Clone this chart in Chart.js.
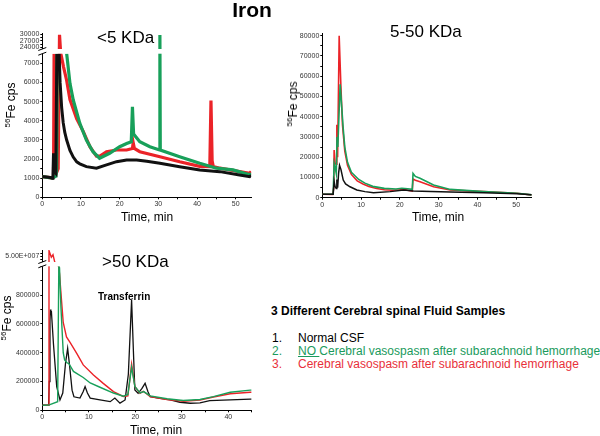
<!DOCTYPE html>
<html>
<head>
<meta charset="utf-8">
<script src="https://cdn.jsdelivr.net/npm/chart.js@4.4.1/dist/chart.umd.min.js"></script>
<style>
body { margin: 0; background: #fff; }
#page { position: relative; width: 600px; height: 436px; overflow: hidden; font-family: "Liberation Sans", Arial, sans-serif; color: #000; }
canvas { position: absolute; }
.t { position: absolute; white-space: nowrap; line-height: 1; }
.yl { position: absolute; white-space: nowrap; line-height: 1; font-size: 12px; transform: translate(-50%, -50%) rotate(-90deg); }
.yl sup { font-size: 8px; line-height: 0; }
</style>
</head>
<body>
<div id="page">
  <canvas id="under5" width="262" height="225" style="left:0;top:0"></canvas>
  <canvas id="mid" width="265" height="225" style="left:280px;top:0"></canvas>
  <canvas id="over50" width="262" height="190" style="left:0;top:235px"></canvas>

  <div class="t" style="left:202px;top:-1px;width:100px;text-align:center;font-weight:bold;font-size:21px">Iron</div>
  <div class="t" style="left:97px;top:29px;font-size:17px">&lt;5 KDa</div>
  <div class="t" style="left:390px;top:23px;font-size:17px">5-50 KDa</div>
  <div class="t" style="left:102px;top:253px;font-size:17px">&gt;50 KDa</div>
  <div class="t" style="left:98px;top:292px;font-size:10px;font-weight:bold">Transferrin</div>

  <div class="yl" style="left:11px;top:105px"><sup>56</sup>Fe cps</div>
  <div class="yl" style="left:293px;top:104px"><sup>56</sup>Fe cps</div>
  <div class="yl" style="left:7px;top:318px"><sup>56</sup>Fe cps</div>

  <div class="t" style="left:97px;top:211px;width:100px;text-align:center;font-size:12px">Time, min</div>
  <div class="t" style="left:388px;top:211px;width:100px;text-align:center;font-size:12px">Time, min</div>
  <div class="t" style="left:106px;top:424px;width:100px;text-align:center;font-size:12px">Time, min</div>

  <div class="t" style="left:271px;top:305px;font-size:12px;font-weight:bold">3 Different Cerebral spinal Fluid Samples</div>
  <div class="t" style="left:272px;top:332px;font-size:12px">1.</div>
  <div class="t" style="left:298px;top:332px;font-size:12px">Normal CSF</div>
  <div class="t" style="left:272px;top:345px;font-size:12px;color:#1a9a5c">2.</div>
  <div class="t" style="left:298px;top:345px;font-size:12px;color:#1a9a5c"><u>NO </u>Cerebral vasospasm after subarachnoid hemorrhage</div>
  <div class="t" style="left:272px;top:358px;font-size:12px;color:#e8303a">3.</div>
  <div class="t" style="left:298px;top:358px;font-size:12px;color:#e8303a">Cerebral vasospasm after subarachnoid hemorrhage</div>
</div>
<script>
// [time (min), 56Fe cps]; null = off scale
const under5Normal = [[0,1080],[1,1060],[2,1040],[2.6,1000],[2.75,1100],[2.9,2300],[3.1,1700],[3.3,1300],[3.5,1250],
  [3.75,7600],[3.8,null],[4.2,null],[4.35,7600],[4.6,6000],[5.0,4700],[5.4,3900],[5.8,3400],[6.3,2990],[7.15,2450],
  [8,2100],[8.9,1850],[9.7,1750],[11.4,1600],[14,1520],[16.6,1690],[19.2,1860],[21.8,1950],[24.4,1950],[27,1880],
  [30.4,1780],[35.5,1600],[40.7,1430],[45.9,1340],[51,1170],[53.6,1080],[54,1150]];
const under5NoVaso = [[0,1080],[2.6,1000],[3.5,1100],[3.7,1400],[3.85,7600],[3.9,null],[6.2,null],[6.3,7600],[7.15,5950],
  [8,5080],[9.7,3860],[11.4,2990],[13.1,2380],[14.8,2040],[17.4,2300],[20,2640],[21.8,2810],[23.0,2900],[23.3,4730],
  [23.6,3300],[25.2,2900],[27.8,2640],[30.3,2470],[30.4,29700],[30.5,2470],[35.5,2120],[40.7,1780],[45,1520],
  [49.3,1430],[53.6,1170],[54,1250]];
const under5Vaso = [[0,1080],[1,1050],[2,1030],[2.6,1000],[2.9,1050],[3.05,7700],[3.35,1500],[3.7,1300],[4.1,1500],
  [4.45,29800],[4.75,9000],[4.9,7400],[5.5,6800],[6.3,6100],[7.15,5100],[8.9,4100],[10.6,3430],[12.3,2640],[14,2150],
  [14.9,2150],[16.6,2380],[19.2,2470],[21.8,2470],[23.3,2550],[23.5,2850],[23.8,2550],[25.2,2380],[30.4,2120],
  [35.5,1860],[40.7,1620],[43.3,1600],[43.6,5050],[43.9,1900],[44.2,1600],[45.9,1520],[51,1340],[53.6,1250],[54,1350]];

const midNormal = [[0,1700],[2.8,1700],[3.05,8000],[3.3,5500],[3.6,4500],[3.75,9000],[3.95,5000],[4.2,12000],[4.45,16000],
  [4.8,14000],[5.4,8700],[6.0,6800],[7.15,5400],[8.9,3800],[11,3000],[13.2,2500],[17.5,3000],[21,3800],[23.5,3300],
  [28,3100],[33,2800],[41.6,2500],[50.2,2000],[54,1400]];
const midNoVaso = [[0,1700],[2.8,1700],[3.05,17000],[3.3,15000],[3.6,12000],[3.8,30000],[4.0,25000],[4.6,56000],
  [5.0,45000],[5.4,34000],[5.8,25000],[6.5,17500],[7.5,12500],[9.4,9000],[11,7200],[13,5600],[16,4600],[19,4300],
  [20.5,4700],[22,4400],[23.2,4100],[23.4,12000],[24,10500],[25.2,9600],[28.7,6300],[33,4100],[41.6,3000],[50.2,2200],[54,1400]];
const midVaso = [[0,1700],[2.7,1600],[2.95,5000],[3.05,23500],[3.3,17000],[3.55,16500],[3.75,36000],[3.95,20000],
  [4.35,80000],[4.8,55000],[5.2,36000],[5.8,23000],[6.5,16000],[7.5,11500],[9,8300],[10.5,6800],[12,5500],[14,4500],
  [16,3900],[18,3700],[20,3900],[21,4200],[22,3700],[23.2,3300],[23.4,9200],[24,8600],[25.2,7900],[28.7,5400],
  [33,3800],[41.6,3000],[50.2,2200],[54,1350]];

const over50Normal = [[0,35000],[1.35,36000],[1.5,200000],[1.65,620000],[1.75,700000],[1.85,660000],[1.95,690000],
  [2.4,460000],[3.1,165000],[3.8,72000],[4.4,120000],[5.0,330000],[5.45,430000],[5.9,300000],[6.4,140000],[6.8,94000],
  [8.1,85000],[8.8,130000],[9.2,165000],[9.7,120000],[10.3,85000],[12.4,72000],[14.6,60000],[15.6,85000],[16.7,50000],
  [17.8,72000],[18.5,250000],[19.2,766000],[19.6,400000],[19.9,141000],[20.6,118000],[21.4,150000],[22.1,187000],
  [22.7,130000],[23.2,94000],[25.3,83000],[27.5,72000],[29.6,56000],[31.8,49000],[33.9,51000],[36,67000],[40.4,72000],
  [44.7,78000],[45,78000]];
const over50NoVaso = [[0,35000],[1.35,36000],[3.3,60000],[3.55,1050000],[3.7,990000],[4.0,720000],[4.5,400000],[4.8,350000],
  [5.3,330000],[5.7,325000],[6.7,270000],[8.8,228000],[10.3,190000],[12.4,160000],[15.3,120000],[17.4,98000],[18.4,110000],
  [19.2,300000],[19.9,165000],[21,120000],[21.8,130000],[23.2,100000],[26.8,80000],[30.3,68000],[33.9,75000],
  [36.8,95000],[40.4,125000],[44.7,140000],[45,140000]];
const over50Vaso = [[0,35000],[1.3,35000],[1.44,5.9e7],[1.94,4.8e7],[2.3,5.2e7],[2.67,4.0e7],[3.5,1100000],[3.7,950000],
  [4.0,820000],[4.5,610000],[5.2,510000],[6.0,470000],[7.4,395000],[8.8,315000],[11,245000],[13.1,187000],[15.3,130000],
  [17.4,96000],[18.4,100000],[19.2,320000],[19.9,165000],[21,118000],[21.7,132000],[23.2,95000],[26.8,75000],
  [30.3,62000],[33.9,72000],[36.8,92000],[40.4,115000],[44.7,125000],[45,125000]];

// tick positions
const timeTicks54 = [0,5,10,15,20,25,30,35,40,45,50];
const timeTicks45 = [0,5,10,15,20,25,30,35,40,45];
const under5CpsTicks = [0,500,1000,1500,2000,2500,3000,3500,4000,4500,5000,5500,6000,6500,7000,24000,25500,27000,28500,30000];
const midCpsTicks = [0,5000,10000,15000,20000,25000,30000,35000,40000,45000,50000,55000,60000,65000,70000,75000,80000];
const over50CpsTicks = [0,100000,200000,300000,400000,500000,600000,700000,800000,900000,1000000,4.5e7,5e7,5.5e7];

// broken y axes: [value, fraction of plot height]
const brokenAxes = {
  under5: [[0,0],[7500,0.874],[23200,0.9026],[30600,1]],
  over50: [[0,0],[1000000,0.8983],[4.0e7,0.9251],[6.0e7,1]]
};

const BLACK = '#111111';
const GREEN = '#18a05a';
const RED = '#eb2328';

function lerpKnots(knots, v, from, to) {
  let i = 0;
  while (i < knots.length - 2 && v > knots[i + 1][from]) i++;
  const a = knots[i], b = knots[i + 1];
  return a[to] + (v - a[from]) * (b[to] - a[to]) / (b[from] - a[from]);
}

class BrokenScale extends Chart.LinearScale {
  getPixelForValue(value) {
    if (value === null || value === undefined || isNaN(value)) return NaN;
    const f = lerpKnots(brokenAxes[this.chart.canvas.id], value, 0, 1);
    return this.bottom - f * (this.bottom - this.top);
  }
  getValueForPixel(pixel) {
    const f = (this.bottom - pixel) / (this.bottom - this.top);
    return lerpKnots(brokenAxes[this.chart.canvas.id], f, 1, 0);
  }
}
BrokenScale.id = 'broken';
BrokenScale.defaults = Chart.LinearScale.defaults;
Chart.register(BrokenScale);

// blank band between the two axis segments, with the // marks on the axis
const breakMarks = {
  id: 'breakMarks',
  afterDraw(chart) {
    const knots = brokenAxes[chart.canvas.id];
    if (!knots) return;
    const y = chart.scales.y, ctx = chart.ctx, area = chart.chartArea, x0 = area.left;
    const yLow = y.getPixelForValue(knots[1][0]);
    const yHigh = y.getPixelForValue(knots[2][0]);
    ctx.save();
    ctx.fillStyle = '#fff';
    ctx.fillRect(x0 - 4, yHigh, area.right - x0 + 6, yLow - yHigh);
    ctx.strokeStyle = '#000';
    ctx.lineWidth = 1;
    for (const p of [yLow, yHigh]) {
      ctx.beginPath();
      ctx.moveTo(x0 - 4, p + 1.5);
      ctx.lineTo(x0 + 4, p - 1.5);
      ctx.stroke();
    }
    ctx.restore();
  }
};

const pts = arr => arr.map(([x, y]) => ({ x, y }));
const line = (label, data, color, width) => ({
  label, data: pts(data), borderColor: color, backgroundColor: color,
  borderWidth: width, pointRadius: 0, tension: 0, spanGaps: false
});

const tickFont = { family: '"Liberation Sans", Arial, sans-serif', size: 7 };

function axis(extra) {
  return Object.assign({
    grid: { drawOnChartArea: false, drawTicks: true, tickLength: 2, color: '#000' },
    border: { display: true, color: '#000', width: 1 },
    ticks: { font: tickFont, color: '#333', padding: 1, autoSkip: false, maxRotation: 0 }
  }, extra);
}

function panel(id, datasets, cfg) {
  const x = axis({
    type: 'linear', min: 0, max: cfg.xMax,
    afterBuildTicks: s => { s.ticks = cfg.xTicks.map(v => ({ value: v })); },
    afterFit: s => { s.height = cfg.xHeight; }
  });
  x.ticks.callback = v => (v % 10 === 0 ? String(v) : '');
  const y = axis({
    type: cfg.yType, min: 0, max: cfg.yMax,
    afterBuildTicks: s => { s.ticks = cfg.yTicks.map(v => ({ value: v })); },
    afterFit: s => { s.width = 42.3; }
  });
  y.ticks.callback = cfg.yLabel;
  return new Chart(document.getElementById(id), {
    type: 'line',
    data: { datasets },
    options: {
      responsive: false,
      animation: false,
      layout: { padding: cfg.padding },
      plugins: { legend: { display: false }, tooltip: { enabled: false } },
      scales: { x, y }
    },
    plugins: [breakMarks]
  });
}

panel('under5', [
  line('Normal CSF', under5Normal, BLACK, 3),
  line('NO vasospasm', under5NoVaso, GREEN, 3.2),
  line('Vasospasm', under5Vaso, RED, 3.2)
], {
  xMax: 54, xTicks: timeTicks54, xHeight: 27.7,
  yType: 'broken', yMax: 30600, yTicks: under5CpsTicks,
  yLabel: v => ((v <= 7000 && v % 1000 === 0) || (v >= 24000 && v % 3000 === 0) ? String(v) : ''),
  padding: { top: 33, right: 10.8, left: 0, bottom: 0 }
});

panel('mid', [
  line('Normal CSF', midNormal, BLACK, 1.5),
  line('NO vasospasm', midNoVaso, GREEN, 1.6),
  line('Vasospasm', midVaso, RED, 1.6)
], {
  xMax: 54, xTicks: timeTicks54, xHeight: 27.3,
  yType: 'linear', yMax: 81000, yTicks: midCpsTicks,
  yLabel: v => (v % 10000 === 0 ? String(v) : ''),
  padding: { top: 33.7, right: 13.3, left: 0, bottom: 0 }
});

panel('over50', [
  line('NO vasospasm', over50NoVaso, GREEN, 1.4),
  line('Vasospasm', over50Vaso, RED, 1.4),
  line('Normal CSF', over50Normal, BLACK, 1.3)
], {
  xMax: 45, xTicks: timeTicks45, xHeight: 14.7,
  yType: 'broken', yMax: 6.0e7, yTicks: over50CpsTicks,
  yLabel: v => (v >= 4e7 ? (v === 5e7 ? '5.00E+007' : '') : (v % 200000 === 0 && v <= 800000 ? String(v) : '')),
  padding: { top: 15, right: 10.4, left: 0, bottom: 0 }
});
</script>
</body>
</html>
